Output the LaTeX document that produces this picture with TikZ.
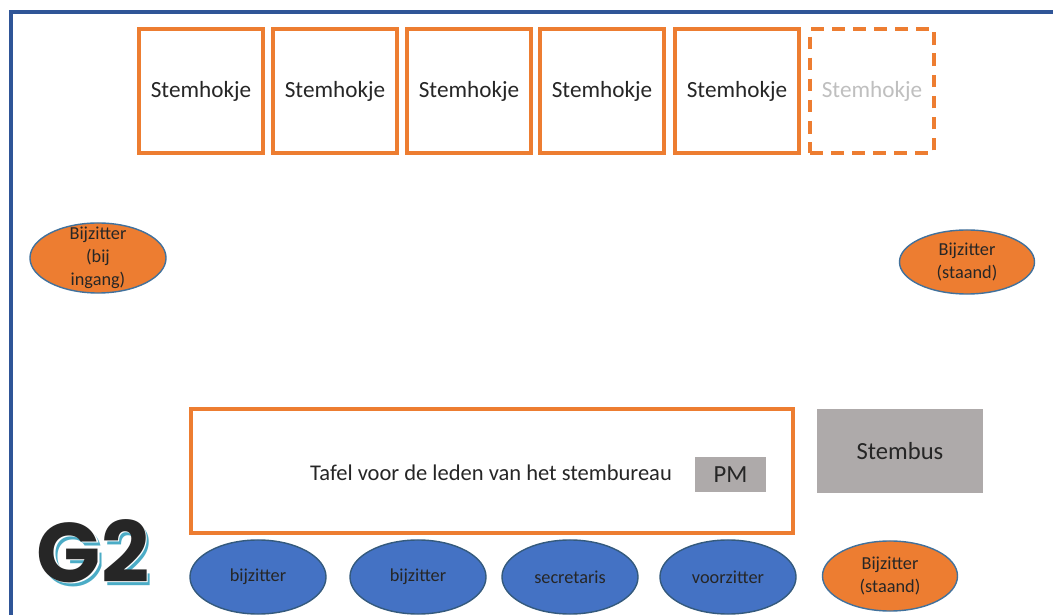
\documentclass[tikz,border=0pt]{standalone}
\usepackage{fontspec}
\setmainfont{Carlito}
\newfontfamily\logofont{Poppins}
\usepackage{tikz}
\usetikzlibrary{shapes.geometric}

\definecolor{oranje}{HTML}{ED7D31}
\definecolor{kader}{HTML}{2F5597}
\definecolor{blauw}{HTML}{4472C4}
\definecolor{rand}{HTML}{41719C}
\definecolor{grijs}{HTML}{AEAAAA}
\definecolor{lichtgrijs}{HTML}{BFBFBF}
\definecolor{cyaan}{HTML}{4BACC6}
\definecolor{tekst}{HTML}{262626}

\newcommand{\logoschaduw}[1]{%
  \rlap{\hspace{2.8pt}\raisebox{-2.8pt}{\color{cyaan}#1}}%
  \rlap{\hspace{1.2pt}\raisebox{-1.2pt}{\color{white}#1}}%
  \color{tekst}#1}

\tikzset{
  hokje/.style={draw=oranje, line width=2.8pt, minimum width=3.1cm, minimum height=3.1cm, inner sep=0pt, text=tekst, font=\fontsize{16.5}{19}\selectfont},
  leeghokje/.style={hokje, dash pattern=on 9pt off 6pt, text=lichtgrijs},
  zitter/.style={ellipse, draw=rand, line width=1pt, fill=oranje, inner sep=0pt, minimum width=3.4cm, minimum height=1.75cm},
  lid/.style={zitter, fill=blauw, draw=rand!80!black, minimum height=1.85cm},
  naam/.style={text=tekst, align=center, inner sep=0pt, font=\fontsize{13}{16.3}\selectfont},
  grijsvak/.style={fill=grijs, text=tekst, inner sep=0pt, font=\fontsize{17.5}{20}\selectfont},
  logo/.style={inner sep=0pt, font=\logofont\bfseries\fontsize{60}{60}\selectfont}
}

\begin{document}
\begin{tikzpicture}[x=0.025cm, y=-0.025cm]
\useasboundingbox (0,0) rectangle (1053,615);
\fill[white] (0,0) rectangle (1053,615);

% lokaal
\draw [kader, line width=2.8pt] (1053,12) -- (11,12) -- (11,615);

% stemhokjes
\foreach \n/\x in {1/201,2/335,3/469,4/602,5/737}
  \node[hokje] (hokje\n) at (\x,91) {Stemhokje};
\node[leeghokje] (hokje6) at (872,91) {Stemhokje};

% bijzitters bij ingang en staand
\node[zitter] (ingang) at (98,258) {};
\node[naam] (ingangtekst) at (ingang) {Bijzitter\\(bij\\ingang)};
\node[zitter, minimum width=3.375cm, minimum height=1.6cm] (staand1) at (967,262) {};
\node[naam] (staand1tekst) at (staand1) {Bijzitter\\(staand)};

% tafel
\node[draw=oranje, line width=2.8pt, minimum width=15.05cm, minimum height=3.1cm] (tafel) at (492,471) {};
\node[text=tekst, inner sep=0pt, font=\fontsize{16}{19}\selectfont] (tafeltekst) at (491,473) {Tafel voor de leden van het stembureau};
\node[grijsvak, minimum width=1.775cm, minimum height=0.875cm] (pm) at (730.5,474.5) {PM};
\node[grijsvak, minimum width=4.15cm, minimum height=2.1cm] (stembus) at (900,451) {Stembus};

% leden
\node[lid] (lid1) at (258,577) {};
\node[naam] (lid1tekst) at (lid1) {bijzitter};
\node[lid] (lid2) at (418,577) {};
\node[naam] (lid2tekst) at (lid2) {bijzitter};
\node[lid] (lid3) at (570,577) {};
\node[naam] (lid3tekst) at (lid3) {secretaris};
\node[lid] (lid4) at (728,577) {};
\node[naam] (lid4tekst) at (lid4) {voorzitter};
\node[zitter, minimum width=3.375cm] (staand2) at (890,576) {};
\node[naam] (staand2tekst) at (staand2) {Bijzitter\\(staand)};

% logo
\node[logo] (logo) at (93,553) {\logoschaduw{G2}};

\end{tikzpicture}
\end{document}
